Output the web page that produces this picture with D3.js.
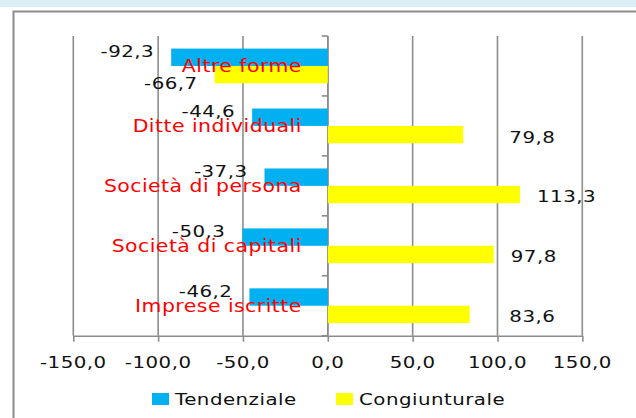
<!DOCTYPE html>
<html><head><meta charset="utf-8">
<script src="https://cdn.jsdelivr.net/npm/d3@7"></script>
<style>
body{margin:0;background:#fff}
svg{display:block}
text{font-family:"DejaVu Sans",Verdana,sans-serif}
</style>
</head><body>
<svg id="c" width="636" height="418"></svg>
<script>
// ---- data ----
const categories = ["Altre forme","Ditte individuali","Società di persona","Società di capitali","Imprese iscritte"];
const seriesNames = ["Tendenziale","Congiunturale"];
const tendenziale = [-92.3,-44.6,-37.3,-50.3,-46.2];
const congiunturale = [-66.7,79.8,113.3,97.8,83.6];
const xTickValues = [-150,-100,-50,0,50,100,150];
const seriesColors = ["#00b0f0","#ffff00"];

(function(){
const values = {Tendenziale: tendenziale, Congiunturale: congiunturale};
const color = d3.scaleOrdinal().domain(seriesNames).range(seriesColors);
const fmt = d3.formatLocale({decimal:",",thousands:".",grouping:[3],currency:["","€"],minus:"-"}).format(".1f");

const svg = d3.select("#c");
const SX = 1.2;
function sText(g, x, y, str, anchor, size, fill, dy){
  return g.append("text")
    .attr("transform",`translate(${x},${y}) scale(${SX},1)`)
    .attr("text-anchor",anchor)
    .attr("font-size",size)
    .attr("letter-spacing",0.4)
    .attr("dy",dy)
    .attr("fill",fill)
    .text(str);
}

// background band + frame
svg.append("rect").attr("x",0).attr("y",0).attr("width",636).attr("height",7).attr("fill","#dbeef4");
svg.append("rect").attr("x",13.5).attr("y",11.5).attr("width",700).attr("height",500)
  .attr("fill","none").attr("stroke","#8c8c8c").attr("stroke-width",2);

// scales
const x = d3.scaleLinear().domain([-150,150]).range([73.3,582.3]);
const y = d3.scaleBand().domain(categories).range([36,335.7]).paddingInner(0.42).paddingOuter(0.21);
const ySub = d3.scaleBand().domain(seriesNames).range([0,y.bandwidth()]);
const plotTop = y.range()[0], plotBottom = y.range()[1];

// gridlines
svg.append("g").selectAll("line").data(xTickValues).join("line")
  .attr("x1",d=>x(d)).attr("x2",d=>x(d)).attr("y1",plotTop).attr("y2",plotBottom)
  .attr("stroke","#8c8c8c").attr("stroke-width",1.6);

// bottom axis (lines only)
const ax = svg.append("g").attr("transform",`translate(0,${plotBottom})`)
  .call(d3.axisBottom(x).tickValues(xTickValues).tickSize(6).tickSizeOuter(0).tickFormat(""));
ax.selectAll("path,line").attr("stroke","#8c8c8c").attr("stroke-width",1.6);

// tick labels
xTickValues.forEach(t => sText(svg, x(t), 367.5, fmt(t), "middle", 16.5, "#111", 0));

// category axis at zero with ticks at band boundaries
const boundaries = categories.map(c => y(c) - y.step()*y.paddingInner()/2).concat([plotBottom]);
svg.append("line").attr("x1",x(0)).attr("x2",x(0)).attr("y1",plotTop).attr("y2",plotBottom)
  .attr("stroke","#8c8c8c").attr("stroke-width",1.6);
svg.append("g").selectAll("line").data(boundaries).join("line")
  .attr("x1",x(0)-6).attr("x2",x(0)).attr("y1",d=>d).attr("y2",d=>d)
  .attr("stroke","#8c8c8c").attr("stroke-width",1.6);

// bars
const rows = [];
categories.forEach((c,i)=>seriesNames.forEach(s=>rows.push({c, s, v: values[s][i]})));
svg.append("g").selectAll("rect").data(rows).join("rect")
  .attr("x",d=>x(Math.min(0,d.v)))
  .attr("width",d=>Math.abs(x(d.v)-x(0)))
  .attr("y",d=>y(d.c)+ySub(d.s))
  .attr("height",ySub.bandwidth())
  .attr("fill",d=>color(d.s));

// value labels
const vl = svg.append("g");
rows.forEach(d=>{
  const cy = y(d.c)+ySub(d.s)+ySub.bandwidth()/2;
  if (d.v < 0) {
    const dy = d.s === "Tendenziale" ? -6 : 8;
    sText(vl, x(d.v)-17, cy+dy, fmt(d.v), "end", 16.5, "#111", "0.36em");
  } else {
    sText(vl, Math.max(x(d.v)+17, x(107)), cy+2, fmt(d.v), "start", 16.5, "#111", "0.36em");
  }
});

// category labels (red)
const cl = svg.append("g");
categories.forEach(c => sText(cl, x(0)-26, y(c)+y.bandwidth()/2, c, "end", 17, "#ff0000", "0.36em"));

// legend
const leg = svg.append("g");
const legendX = [152, 336];
seriesNames.forEach((s,i)=>{
  leg.append("rect").attr("x",legendX[i]).attr("y",393).attr("width",17).attr("height",12).attr("fill",color(s));
  sText(leg, legendX[i]+23, 405, s, "start", 16.5, "#111", 0);
});
})();
</script>
</body></html>
